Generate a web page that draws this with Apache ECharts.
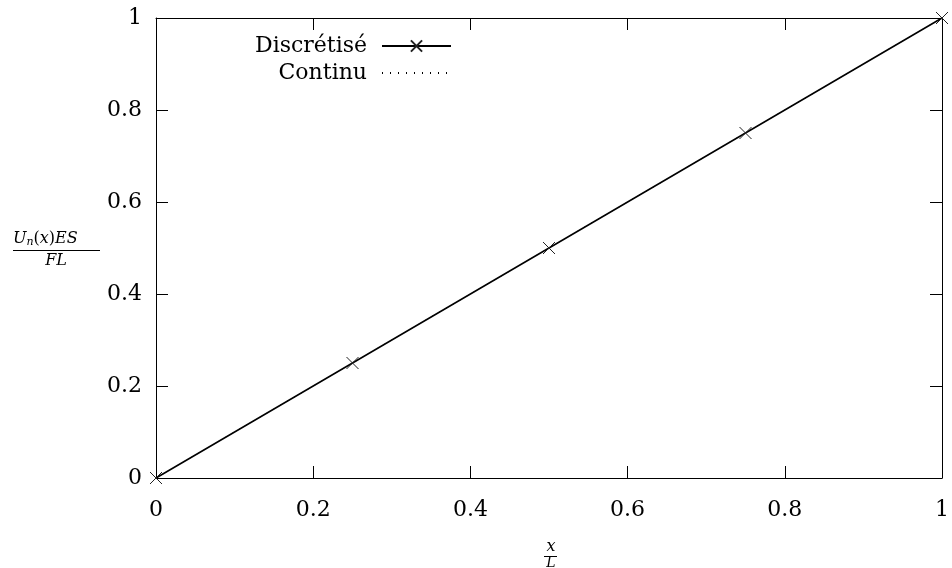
<!DOCTYPE html>
<html>
<head>
<meta charset="utf-8">
<script src="https://cdn.jsdelivr.net/npm/echarts@6/dist/echarts.min.js"></script>
<style>
html,body{margin:0;padding:0;background:#fff;}
#chart{width:952px;height:568px;}
</style>
</head>
<body>
<div id="chart"></div>
<script>
// Data
const discX = [0, 0.25, 0.5, 0.75, 1];
const discY = [0, 0.25, 0.5, 0.75, 1];
const contX = [0, 0.2, 0.4, 0.6, 0.8, 1];
const contY = [0, 0.2, 0.4, 0.6, 0.8, 1];
const seriesNames = ['Discrétisé', 'Continu'];
const xTitle = ['x', 'L'];
const yTitle = ['U', 'n', '(x)ES', 'FL'];

const FONT = "'DejaVu Serif', serif";
const chart = echarts.init(document.getElementById('chart'), null, {renderer: 'canvas'});

const gridL = 156, gridR = 6, gridT = 18, gridB = 90;

function axisCommon(showLabels) {
  return {
    type: 'value', min: 0, max: 1, interval: 0.2,
    axisLine: {show: true, onZero: false, lineStyle: {color: '#000', width: 1}},
    axisTick: {show: true, inside: true, length: 12, lineStyle: {color: '#000', width: 1}},
    splitLine: {show: false},
    axisLabel: {show: showLabels, color: '#000', fontFamily: FONT, fontSize: 22}
  };
}

const xBottom = Object.assign(axisCommon(true), {position: 'bottom'});
xBottom.axisLabel.margin = 21;
const xTop = Object.assign(axisCommon(false), {position: 'top'});
const yLeft = Object.assign(axisCommon(true), {position: 'left'});
yLeft.axisLabel.margin = 14;
const yRight = Object.assign(axisCommon(false), {position: 'right'});

const cross = 'path://M0,0L10,10M10,0L0,10';

chart.setOption({
  animation: false,
  backgroundColor: '#fff',
  textStyle: {fontFamily: FONT},
  grid: {left: gridL, right: gridR, top: gridT, bottom: gridB, containLabel: false},
  xAxis: [xBottom, xTop],
  yAxis: [yLeft, yRight],
  legend: {
    data: [
      {name: seriesNames[0]},
      {name: seriesNames[1], itemStyle: {opacity: 0}}
    ],
    orient: 'vertical',
    align: 'right',
    right: 495,
    top: 30,
    itemWidth: 69,
    itemHeight: 14,
    itemGap: 5,
    textStyle: {fontFamily: FONT, fontSize: 22, color: '#000', padding: [0, 10, 0, 0]}
  },
  series: [
    {
      name: seriesNames[0],
      type: 'line',
      data: discX.map((x, i) => [x, discY[i]]),
      symbol: cross,
      symbolSize: 12,
      showAllSymbol: true,
      clip: false,
      lineStyle: {color: '#000', width: 1.6},
      itemStyle: {color: '#000', borderColor: '#222', borderWidth: 1},
      z: 3
    },
    {
      name: seriesNames[1],
      type: 'line',
      data: contX.map((x, i) => [x, contY[i]]),
      symbol: 'none',
      showSymbol: false,
      lineStyle: {color: '#000', width: 1, type: [1, 7]},
      itemStyle: {color: '#000'},
      z: 2
    }
  ],
  graphic: [
    {type: 'text', left: 13, top: 231, style: {
      rich: {
        i: {fontFamily: FONT, fontStyle: 'italic', fontSize: 16, fill: '#000'},
        s: {fontFamily: FONT, fontStyle: 'italic', fontSize: 11, fill: '#000', verticalAlign: 'bottom', padding: [6, 0, 0, 0]},
        r: {fontFamily: FONT, fontSize: 16, fill: '#000'}
      },
      text: '{i|' + yTitle[0] + '}{s|' + yTitle[1] + '}{r|(}{i|x}{r|)}{i|ES}'
    }},
    {type: 'line', shape: {x1: 13, y1: 250.5, x2: 100, y2: 250.5}, style: {stroke: '#000', lineWidth: 1}},
    {type: 'text', x: 56, y: 253, style: {text: yTitle[3], fontFamily: FONT, fontStyle: 'italic', fontSize: 16, fill: '#000', align: 'center', verticalAlign: 'top'}},
    {type: 'text', x: 551, y: 555, style: {text: xTitle[0], fontFamily: FONT, fontStyle: 'italic', fontSize: 16, fill: '#000', align: 'center', verticalAlign: 'bottom'}},
    {type: 'line', shape: {x1: 544, y1: 556.5, x2: 557, y2: 556.5}, style: {stroke: '#000', lineWidth: 1}},
    {type: 'text', x: 551, y: 556, style: {text: xTitle[1], fontFamily: FONT, fontStyle: 'italic', fontSize: 14, fill: '#000', align: 'center', verticalAlign: 'top'}}
  ]
});
</script>
</body>
</html>
